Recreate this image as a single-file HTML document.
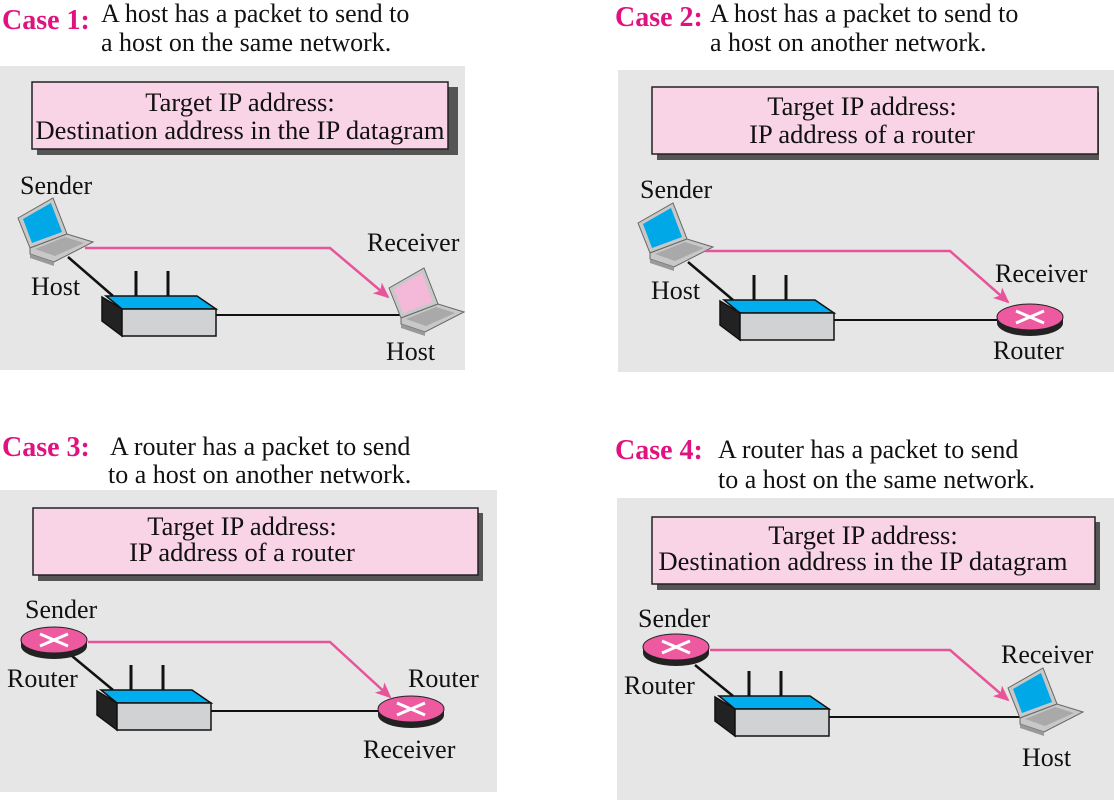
<!DOCTYPE html>
<html><head><meta charset="utf-8"><style>
html,body{margin:0;padding:0;background:#fff}
svg{display:block}
text{font-family:"Liberation Serif",serif;fill:#111}
.case{font-weight:bold;fill:#e0127f;font-size:28px}
.d{font-size:26px}
.b{font-size:26.5px}
.l{font-size:26px}
</style></head><body>
<svg width="1114" height="800" viewBox="0 0 1114 800" xmlns="http://www.w3.org/2000/svg">
<defs>
<marker id="ah" markerWidth="16" markerHeight="14" refX="14" refY="7" orient="auto" markerUnits="userSpaceOnUse" viewBox="0 0 16 14">
<path d="M0,0 L16,7 L0,14 L4,7 z" fill="#e8549a"/>
</marker>
<g id="laptop">
<polygon points="0,20 35,0 49,36 12,50" fill="#c8c8c8" stroke="#666" stroke-width="1"/>
<polygon points="5,21 33,5 44,34 14,45" fill="#00a8e8"/>
<polygon points="12,50 49,36 75,44 36,64 12,56" fill="#c8c8c8" stroke="#666" stroke-width="1"/>
<polygon points="17,51 47,39 66,45 37,58" fill="#a9a9a9"/>
<polygon points="12,56 36,64 36,68 12,60" fill="#999"/>
</g>
<g id="laptopP">
<polygon points="0,20 35,0 49,36 12,50" fill="#c8c8c8" stroke="#666" stroke-width="1"/>
<polygon points="5,21 33,5 44,34 14,45" fill="#f4b8d8"/>
<polygon points="12,50 49,36 75,44 36,64 12,56" fill="#c8c8c8" stroke="#666" stroke-width="1"/>
<polygon points="17,51 47,39 66,45 37,58" fill="#a9a9a9"/>
<polygon points="12,56 36,64 36,68 12,60" fill="#999"/>
</g>
<g id="sw">
<line x1="34" y1="-25" x2="34" y2="2" stroke="#111" stroke-width="3"/>
<line x1="66" y1="-25" x2="66" y2="2" stroke="#111" stroke-width="3"/>
<polygon points="4,0 95,0 114,13 20,13" fill="#00aeef" stroke="#111" stroke-width="1.5"/>
<polygon points="0,1 20,13 20,40 0,25" fill="#222" stroke="#111" stroke-width="1.5"/>
<rect x="20" y="13" width="94" height="27" fill="#d1d2d4" stroke="#111" stroke-width="1.5"/>
</g>
<g id="rt">
<ellipse cx="0" cy="6" rx="33" ry="13" fill="#222"/>
<rect x="-33" y="0" width="66" height="6" fill="#222"/>
<ellipse cx="0" cy="0" rx="33" ry="13" fill="#ee5aa0" stroke="#222" stroke-width="1"/>
<path d="M-14,-6 L14,6 M-14,6 L14,-6" stroke="#fff" stroke-width="3"/>
</g>
</defs>

<!-- Case 1 -->
<text x="2" y="29" class="case">Case 1:</text>
<text x="101" y="22" class="d">A host has a packet to send to</text>
<text x="101" y="51" class="d">a host on the same network.</text>
<rect x="0" y="66" width="465" height="304" fill="#e6e6e6"/>
<rect x="37" y="87" width="421" height="68" fill="#555"/>
<rect x="32" y="82" width="416" height="67" fill="#f9d3e6" stroke="#222" stroke-width="1.5"/>
<text x="240" y="111" class="b" text-anchor="middle">Target IP address:</text>
<text x="240" y="139" class="b" text-anchor="middle">Destination address in the IP datagram</text>
<text x="20" y="194" class="l">Sender</text>
<text x="31" y="295" class="l">Host</text>
<text x="367" y="251" class="l">Receiver</text>
<text x="386" y="360" class="l">Host</text>
<line x1="68" y1="257" x2="113" y2="296" stroke="#111" stroke-width="2.5"/>
<line x1="216" y1="315" x2="400" y2="315" stroke="#111" stroke-width="2"/>
<use href="#sw" x="102" y="296"/>
<use href="#laptop" x="18" y="198"/>
<use href="#laptopP" x="389" y="268"/>
<polyline points="85,248 330,248 388,297" fill="none" stroke="#e8549a" stroke-width="2.5" marker-end="url(#ah)"/>

<!-- Case 2 -->
<text x="615" y="26" class="case">Case 2:</text>
<text x="710" y="22" class="d">A host has a packet to send to</text>
<text x="710" y="51" class="d">a host on another network.</text>
<rect x="618" y="70" width="496" height="302" fill="#e6e6e6"/>
<rect x="657" y="92" width="442" height="68" fill="#555"/>
<rect x="652" y="87" width="446" height="67" fill="#f9d3e6" stroke="#222" stroke-width="1.5"/>
<text x="862" y="115" class="b" text-anchor="middle">Target IP address:</text>
<text x="862" y="143" class="b" text-anchor="middle">IP address of a router</text>
<text x="640" y="198" class="l">Sender</text>
<text x="651" y="299" class="l">Host</text>
<text x="995" y="282" class="l">Receiver</text>
<text x="993" y="359" class="l">Router</text>
<line x1="688" y1="262" x2="733" y2="300" stroke="#111" stroke-width="2.5"/>
<line x1="834" y1="320" x2="1000" y2="320" stroke="#111" stroke-width="2"/>
<use href="#sw" x="720" y="300"/>
<use href="#laptop" x="638" y="203"/>
<use href="#rt" x="1030" y="317"/>
<polyline points="705,251 950,251 1008,302" fill="none" stroke="#e8549a" stroke-width="2.5" marker-end="url(#ah)"/>

<!-- Case 3 -->
<text x="2" y="456" class="case">Case 3:</text>
<text x="110" y="455" class="d">A router has a packet to send</text>
<text x="108" y="483" class="d">to a host on another network.</text>
<rect x="0" y="490" width="497" height="302" fill="#e6e6e6"/>
<rect x="38" y="513" width="445" height="68" fill="#555"/>
<rect x="33" y="508" width="445" height="67" fill="#f9d3e6" stroke="#222" stroke-width="1.5"/>
<text x="242" y="535" class="b" text-anchor="middle">Target IP address:</text>
<text x="242" y="561" class="b" text-anchor="middle">IP address of a router</text>
<text x="25" y="618" class="l">Sender</text>
<text x="7" y="687" class="l">Router</text>
<text x="408" y="687" class="l">Router</text>
<text x="363" y="758" class="l">Receiver</text>
<line x1="72" y1="656" x2="113" y2="690" stroke="#111" stroke-width="2.5"/>
<line x1="210" y1="711" x2="380" y2="711" stroke="#111" stroke-width="2"/>
<use href="#sw" x="97" y="690"/>
<use href="#rt" x="54" y="640"/>
<use href="#rt" x="411" y="709"/>
<polyline points="88,642 330,642 390,697" fill="none" stroke="#e8549a" stroke-width="2.5" marker-end="url(#ah)"/>

<!-- Case 4 -->
<text x="615" y="459" class="case">Case 4:</text>
<text x="718" y="458" class="d">A router has a packet to send</text>
<text x="718" y="488" class="d">to a host on the same network.</text>
<rect x="617" y="498" width="497" height="302" fill="#e6e6e6"/>
<rect x="657" y="522" width="443" height="68" fill="#555"/>
<rect x="652" y="517" width="443" height="67" fill="#f9d3e6" stroke="#222" stroke-width="1.5"/>
<text x="863" y="544" class="b" text-anchor="middle">Target IP address:</text>
<text x="863" y="570" class="b" text-anchor="middle">Destination address in the IP datagram</text>
<text x="638" y="627" class="l">Sender</text>
<text x="624" y="694" class="l">Router</text>
<text x="1001" y="663" class="l">Receiver</text>
<text x="1022" y="766" class="l">Host</text>
<line x1="695" y1="665" x2="733" y2="696" stroke="#111" stroke-width="2.5"/>
<line x1="829" y1="717" x2="1022" y2="717" stroke="#111" stroke-width="2"/>
<use href="#sw" x="715" y="696"/>
<use href="#rt" x="676" y="647"/>
<use href="#laptop" x="1008" y="668"/>
<polyline points="710,650 950,650 1008,700" fill="none" stroke="#e8549a" stroke-width="2.5" marker-end="url(#ah)"/>
</svg>
</body></html>
